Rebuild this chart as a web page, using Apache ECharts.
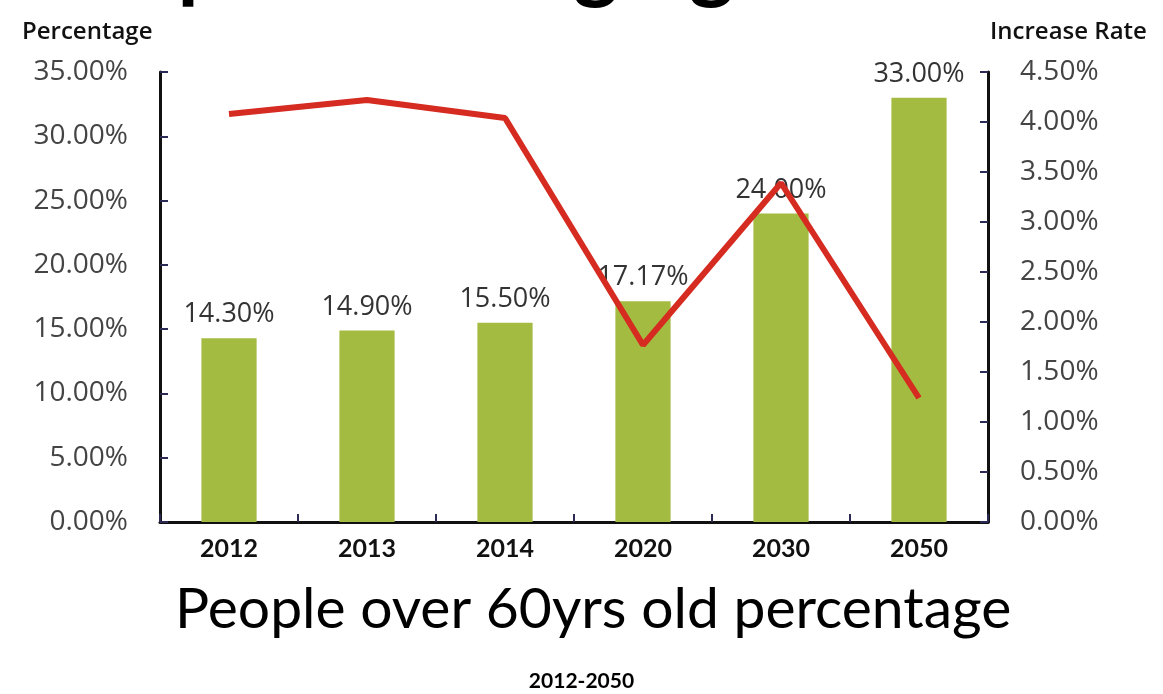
<!DOCTYPE html>
<html>
<head>
<meta charset="utf-8">
<script src="https://cdn.jsdelivr.net/npm/echarts@6/dist/echarts.min.js"></script>
<style>
  html, body { margin: 0; padding: 0; background: #ffffff; }
  #chart { width: 1163px; height: 694px; }
</style>
</head>
<body>
<div id="chart"></div>
<script>
// Years on the category axis
const years = ['2012', '2013', '2014', '2020', '2030', '2050'];
// Share of people over 60 (%), left axis
const over60Share = [14.3, 14.9, 15.5, 17.17, 24.0, 33.0];
// Increase rate (%), right axis
const increaseRate = [4.08, 4.22, 4.04, 1.77, 3.39, 1.24];
// Axis ranges and steps
const leftAxisRange = [0, 35, 5];
const rightAxisRange = [0, 4.5, 0.5];

const chart = echarts.init(document.getElementById('chart'), null, { renderer: 'canvas' });

const tickLabelStyle = {
  color: '#444444',
  fontFamily: 'Open Sans',
  fontSize: 28
};

const axisNameStyle = {
  color: '#111111',
  fontFamily: 'Open Sans',
  fontWeight: 600,
  fontSize: 24,
  align: 'left'
};

const option = {
  backgroundColor: '#ffffff',
  animation: false,
  title: [
    {
      text: 'Population Aging',
      left: 72,
      top: -84,
      textStyle: { fontFamily: 'Lato', fontWeight: 'bold', fontSize: 86, color: '#000000' }
    },
    {
      text: 'People over 60yrs old percentage',
      left: 170,
      top: 576,
      textStyle: { fontFamily: 'Lato', fontWeight: 'normal', fontSize: 57, color: '#000000' }
    },
    {
      text: '2012-2050',
      left: 'center',
      top: 666,
      textStyle: { fontFamily: 'Lato', fontWeight: 'bold', fontSize: 21, color: '#000000' }
    }
  ],
  grid: { left: 160, right: 175, top: 72, bottom: 172 },
  xAxis: {
    type: 'category',
    data: years,
    axisLine: { lineStyle: { color: '#111111', width: 3 } },
    axisTick: { show: true, inside: true, length: 8, lineStyle: { color: '#2a2a55', width: 2 } },
    axisLabel: {
      color: '#111111',
      fontFamily: 'Lato',
      fontWeight: 'bold',
      fontSize: 25,
      margin: 14
    }
  },
  yAxis: [
    {
      type: 'value',
      name: 'Percentage',
      nameLocation: 'end',
      nameGap: 28,
      nameTextStyle: Object.assign({ padding: [0, 0, 0, -138] }, axisNameStyle),
      min: leftAxisRange[0],
      max: leftAxisRange[1],
      interval: leftAxisRange[2],
      axisLine: { show: true, lineStyle: { color: '#111111', width: 3 } },
      axisTick: { show: true, inside: true, length: 8, lineStyle: { color: '#2a2a55', width: 2 } },
      splitLine: { show: false },
      axisLabel: Object.assign({ margin: 32, formatter: v => v.toFixed(2) + '%' }, tickLabelStyle)
    },
    {
      type: 'value',
      name: 'Increase Rate',
      nameLocation: 'end',
      nameGap: 28,
      nameTextStyle: Object.assign({ padding: [0, 0, 0, 2] }, axisNameStyle),
      min: rightAxisRange[0],
      max: rightAxisRange[1],
      interval: rightAxisRange[2],
      position: 'right',
      axisLine: { show: true, lineStyle: { color: '#111111', width: 3 } },
      axisTick: { show: true, inside: true, length: 8, lineStyle: { color: '#2a2a55', width: 2 } },
      splitLine: { show: false },
      axisLabel: Object.assign({ margin: 32, formatter: v => v.toFixed(2) + '%' }, tickLabelStyle)
    }
  ],
  series: [
    {
      name: 'Over 60 share',
      type: 'bar',
      yAxisIndex: 0,
      data: over60Share,
      barWidth: '40%',
      itemStyle: { color: '#a3bb40' },
      label: {
        show: true,
        position: 'top',
        distance: 10,
        color: '#333333',
        fontFamily: 'Open Sans',
        fontSize: 27,
        formatter: p => p.value.toFixed(2) + '%'
      },
      z: 2
    },
    {
      name: 'Increase rate',
      type: 'line',
      yAxisIndex: 1,
      data: increaseRate,
      symbol: 'none',
      lineStyle: { color: '#d52b20', width: 6 },
      z: 3
    }
  ]
};

chart.setOption(option);
</script>
</body>
</html>
